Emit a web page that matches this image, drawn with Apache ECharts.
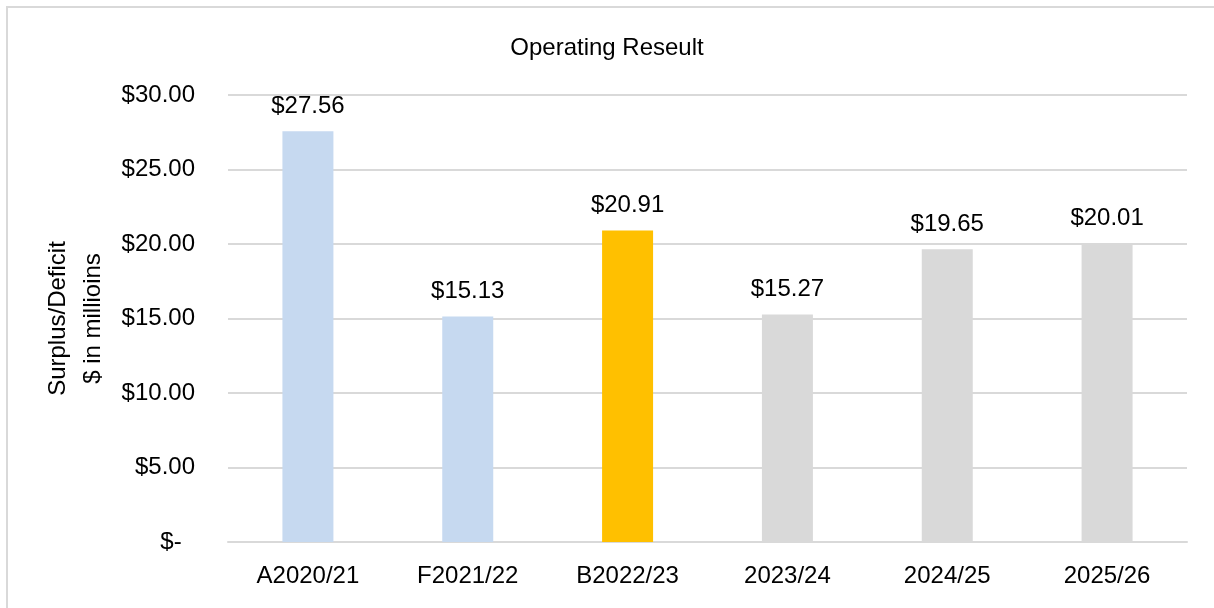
<!DOCTYPE html>
<html>
<head>
<meta charset="utf-8">
<script src="https://cdn.jsdelivr.net/npm/echarts@6/dist/echarts.min.js"></script>
<style>
html,body{margin:0;padding:0;background:#fff;}
#chart{width:1214px;height:608px;}
</style>
</head>
<body>
<div id="chart"></div>
<script>
const categories = ['A2020/21', 'F2021/22', 'B2022/23', '2023/24', '2024/25', '2025/26'];
const values = [27.56, 15.13, 20.91, 15.27, 19.65, 20.01];
const barColors = ['#C6D9F0', '#C6D9F0', '#FFC000', '#D9D9D9', '#D9D9D9', '#D9D9D9'];
const titleText = 'Operating Reseult';
const yAxisName = 'Surplus/Deficit\n$ in millioins';

const FONT = '"Liberation Sans", Arial, sans-serif';
const FS = 24;
const chart = echarts.init(document.getElementById('chart'));
chart.setOption({
  backgroundColor: '#fff',
  animation: false,
  graphic: [{
    type: 'rect',
    shape: { x: 7, y: 7, width: 1212, height: 620 },
    style: { fill: 'none', stroke: '#D9D9D9', lineWidth: 2 },
    silent: true, z: -1
  }],
  title: {
    text: titleText,
    left: 'center',
    top: 31,
    textStyle: { fontFamily: FONT, fontSize: FS, fontWeight: 'normal', color: '#000' }
  },
  grid: { left: 228, right: 27, top: 95, bottom: 66, containLabel: false },
  xAxis: {
    type: 'category',
    data: categories,
    axisLine: { show: true, lineStyle: { color: '#D9D9D9', width: 2 } },
    axisTick: { show: false },
    axisLabel: { fontFamily: FONT, fontSize: FS, color: '#000', margin: 22 }
  },
  yAxis: {
    type: 'value',
    min: 0, max: 30, interval: 5,
    name: yAxisName,
    nameLocation: 'middle',
    nameGap: 111,
    nameRotate: 90,
    nameTextStyle: { fontFamily: FONT, fontSize: FS, color: '#000', lineHeight: 35 },
    axisLine: { show: false },
    axisTick: { show: false },
    splitLine: { lineStyle: { color: '#D9D9D9', width: 2 } },
    axisLabel: {
      fontFamily: FONT, fontSize: FS, color: '#000', margin: 33,
      formatter: v => v === 0 ? '$-  ' : '$' + v.toFixed(2)
    }
  },
  series: [{
    type: 'bar',
    data: values.map((v, i) => ({ value: v, itemStyle: { color: barColors[i] } })),
    barWidth: 51,
    label: {
      show: true, position: 'top', distance: 13,
      fontFamily: FONT, fontSize: FS, color: '#000',
      formatter: p => '$' + p.value.toFixed(2)
    }
  }]
});
</script>
</body>
</html>
